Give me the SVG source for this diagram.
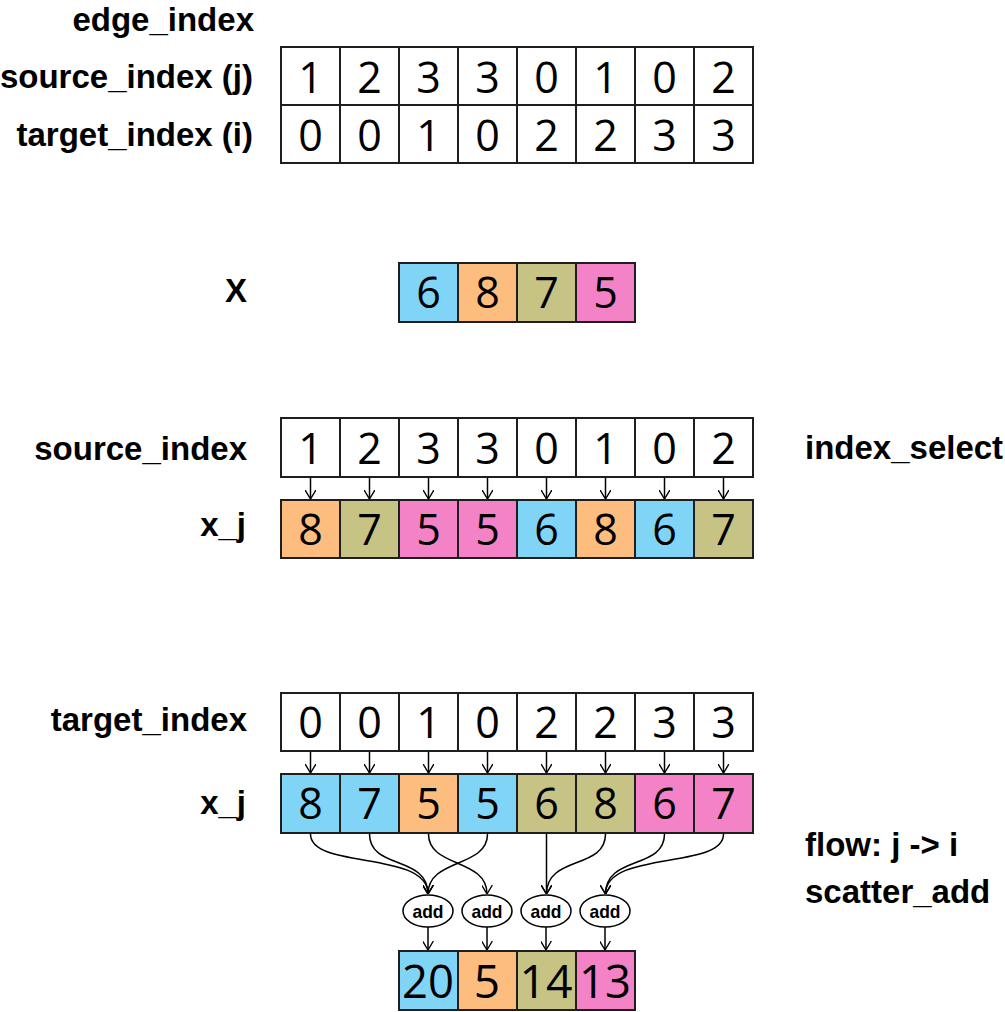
<svg xmlns="http://www.w3.org/2000/svg" width="1005" height="1012" viewBox="0 0 1005 1012">
<style>
.lbl{font-family:"Liberation Sans",Arial,sans-serif;font-weight:bold;font-size:33px;fill:#000}
.r{text-anchor:end}
.num{font-family:"Open Sans","Noto Sans",sans-serif;font-size:43px;text-anchor:middle;fill:#000}
.big{font-size:46px}
.cell{stroke:#1e1e1e;stroke-width:2}
.w{fill:#fff}.b{fill:#80d5f7}.o{fill:#fdbd7e}.g{fill:#c6c385}.p{fill:#f482c6}
.con{fill:none;stroke:#000;stroke-width:1.5;marker-end:url(#ah)}
.add{fill:#fff;stroke:#000;stroke-width:1.5}
.addt{font-family:"Liberation Sans",Arial,sans-serif;font-weight:bold;font-size:19px;text-anchor:middle}
</style>
<defs>
<marker id="ah" viewBox="0 0 10 12" refX="10" refY="6" markerWidth="9" markerHeight="11" markerUnits="userSpaceOnUse" orient="auto">
<path d="M0,0 L10,6 L0,12" fill="none" stroke="#000" stroke-width="1.5"/>
</marker>
</defs>

<g id="labels">
<text class="lbl r" x="254" y="31">edge_index</text>
<text class="lbl r" x="253" y="88">source_index (j)</text>
<text class="lbl r" x="253" y="146">target_index (i)</text>
<text class="lbl r" x="247" y="302">X</text>
<text class="lbl r" x="247" y="460">source_index</text>
<text class="lbl r" x="246" y="536">x_j</text>
<text class="lbl" x="805" y="459">index_select</text>
<text class="lbl r" x="247" y="731">target_index</text>
<text class="lbl r" x="246" y="814">x_j</text>
<text class="lbl" x="805" y="856">flow: j -&gt; i</text>
<text class="lbl" x="805" y="903">scatter_add</text>
</g>

<g id="edge_index_source">
<rect class="cell w" x="281" y="47" width="59" height="58"/><rect class="cell w" x="340" y="47" width="59" height="58"/><rect class="cell w" x="399" y="47" width="59" height="58"/><rect class="cell w" x="458" y="47" width="59" height="58"/><rect class="cell w" x="517" y="47" width="59" height="58"/><rect class="cell w" x="576" y="47" width="59" height="58"/><rect class="cell w" x="635" y="47" width="59" height="58"/><rect class="cell w" x="694" y="47" width="59" height="58"/>
<text class="num" x="310.5" y="93">1</text><text class="num" x="369.5" y="93">2</text><text class="num" x="428.5" y="93">3</text><text class="num" x="487.5" y="93">3</text><text class="num" x="546.5" y="93">0</text><text class="num" x="605.5" y="93">1</text><text class="num" x="664.5" y="93">0</text><text class="num" x="723.5" y="93">2</text>
</g>
<g id="edge_index_target">
<rect class="cell w" x="281" y="105" width="59" height="58"/><rect class="cell w" x="340" y="105" width="59" height="58"/><rect class="cell w" x="399" y="105" width="59" height="58"/><rect class="cell w" x="458" y="105" width="59" height="58"/><rect class="cell w" x="517" y="105" width="59" height="58"/><rect class="cell w" x="576" y="105" width="59" height="58"/><rect class="cell w" x="635" y="105" width="59" height="58"/><rect class="cell w" x="694" y="105" width="59" height="58"/>
<text class="num" x="310.5" y="151">0</text><text class="num" x="369.5" y="151">0</text><text class="num" x="428.5" y="151">1</text><text class="num" x="487.5" y="151">0</text><text class="num" x="546.5" y="151">2</text><text class="num" x="605.5" y="151">2</text><text class="num" x="664.5" y="151">3</text><text class="num" x="723.5" y="151">3</text>
</g>

<g id="X">
<rect class="cell b" x="399" y="263" width="59" height="59"/><rect class="cell o" x="458" y="263" width="59" height="59"/><rect class="cell g" x="517" y="263" width="59" height="59"/><rect class="cell p" x="576" y="263" width="59" height="59"/>
<text class="num" x="428.5" y="308">6</text><text class="num" x="487.5" y="308">8</text><text class="num" x="546.5" y="308">7</text><text class="num" x="605.5" y="308">5</text>
</g>

<g id="source_index">
<rect class="cell w" x="281" y="418" width="59" height="59"/><rect class="cell w" x="340" y="418" width="59" height="59"/><rect class="cell w" x="399" y="418" width="59" height="59"/><rect class="cell w" x="458" y="418" width="59" height="59"/><rect class="cell w" x="517" y="418" width="59" height="59"/><rect class="cell w" x="576" y="418" width="59" height="59"/><rect class="cell w" x="635" y="418" width="59" height="59"/><rect class="cell w" x="694" y="418" width="59" height="59"/>
<text class="num" x="310.5" y="464">1</text><text class="num" x="369.5" y="464">2</text><text class="num" x="428.5" y="464">3</text><text class="num" x="487.5" y="464">3</text><text class="num" x="546.5" y="464">0</text><text class="num" x="605.5" y="464">1</text><text class="num" x="664.5" y="464">0</text><text class="num" x="723.5" y="464">2</text>
</g>

<g id="x_j_select">
<rect class="cell o" x="281" y="500" width="59" height="58"/><rect class="cell g" x="340" y="500" width="59" height="58"/><rect class="cell p" x="399" y="500" width="59" height="58"/><rect class="cell p" x="458" y="500" width="59" height="58"/><rect class="cell b" x="517" y="500" width="59" height="58"/><rect class="cell o" x="576" y="500" width="59" height="58"/><rect class="cell b" x="635" y="500" width="59" height="58"/><rect class="cell g" x="694" y="500" width="59" height="58"/>
<text class="num" x="310.5" y="545">8</text><text class="num" x="369.5" y="545">7</text><text class="num" x="428.5" y="545">5</text><text class="num" x="487.5" y="545">5</text><text class="num" x="546.5" y="545">6</text><text class="num" x="605.5" y="545">8</text><text class="num" x="664.5" y="545">6</text><text class="num" x="723.5" y="545">7</text>
</g>

<g id="target_index">
<rect class="cell w" x="281" y="693" width="59" height="58"/><rect class="cell w" x="340" y="693" width="59" height="58"/><rect class="cell w" x="399" y="693" width="59" height="58"/><rect class="cell w" x="458" y="693" width="59" height="58"/><rect class="cell w" x="517" y="693" width="59" height="58"/><rect class="cell w" x="576" y="693" width="59" height="58"/><rect class="cell w" x="635" y="693" width="59" height="58"/><rect class="cell w" x="694" y="693" width="59" height="58"/>
<text class="num" x="310.5" y="738">0</text><text class="num" x="369.5" y="738">0</text><text class="num" x="428.5" y="738">1</text><text class="num" x="487.5" y="738">0</text><text class="num" x="546.5" y="738">2</text><text class="num" x="605.5" y="738">2</text><text class="num" x="664.5" y="738">3</text><text class="num" x="723.5" y="738">3</text>
</g>

<g id="x_j_scatter">
<rect class="cell b" x="281" y="774" width="59" height="59"/><rect class="cell b" x="340" y="774" width="59" height="59"/><rect class="cell o" x="399" y="774" width="59" height="59"/><rect class="cell b" x="458" y="774" width="59" height="59"/><rect class="cell g" x="517" y="774" width="59" height="59"/><rect class="cell g" x="576" y="774" width="59" height="59"/><rect class="cell p" x="635" y="774" width="59" height="59"/><rect class="cell p" x="694" y="774" width="59" height="59"/>
<text class="num" x="310.5" y="819">8</text><text class="num" x="369.5" y="819">7</text><text class="num" x="428.5" y="819">5</text><text class="num" x="487.5" y="819">5</text><text class="num" x="546.5" y="819">6</text><text class="num" x="605.5" y="819">8</text><text class="num" x="664.5" y="819">6</text><text class="num" x="723.5" y="819">7</text>
</g>

<g id="add1"><ellipse class="add" cx="428" cy="911" rx="25" ry="16"/><text class="addt" x="428" y="918" textLength="31" lengthAdjust="spacingAndGlyphs">add</text></g>
<g id="add2"><ellipse class="add" cx="487" cy="911" rx="25" ry="16"/><text class="addt" x="487" y="918" textLength="31" lengthAdjust="spacingAndGlyphs">add</text></g>
<g id="add3"><ellipse class="add" cx="546" cy="911" rx="25" ry="16"/><text class="addt" x="546" y="918" textLength="31" lengthAdjust="spacingAndGlyphs">add</text></g>
<g id="add4"><ellipse class="add" cx="605" cy="911" rx="25" ry="16"/><text class="addt" x="605" y="918" textLength="31" lengthAdjust="spacingAndGlyphs">add</text></g>

<g id="result">
<rect class="cell b" x="399" y="951" width="59" height="59"/><rect class="cell o" x="458" y="951" width="59" height="59"/><rect class="cell g" x="517" y="951" width="59" height="59"/><rect class="cell p" x="576" y="951" width="59" height="59"/>
<text class="num big" x="428" y="998" textLength="52" lengthAdjust="spacingAndGlyphs">20</text><text class="num big" x="487" y="998">5</text><text class="num big" x="546" y="998" textLength="53" lengthAdjust="spacingAndGlyphs">14</text><text class="num big" x="605" y="998" textLength="52" lengthAdjust="spacingAndGlyphs">13</text>
</g>

<g id="connectors">
<line class="con" x1="310.5" y1="478" x2="310.5" y2="499"/><line class="con" x1="369.5" y1="478" x2="369.5" y2="499"/><line class="con" x1="428.5" y1="478" x2="428.5" y2="499"/><line class="con" x1="487.5" y1="478" x2="487.5" y2="499"/><line class="con" x1="546.5" y1="478" x2="546.5" y2="499"/><line class="con" x1="605.5" y1="478" x2="605.5" y2="499"/><line class="con" x1="664.5" y1="478" x2="664.5" y2="499"/><line class="con" x1="723.5" y1="478" x2="723.5" y2="499"/>
<line class="con" x1="310.5" y1="752" x2="310.5" y2="773"/><line class="con" x1="369.5" y1="752" x2="369.5" y2="773"/><line class="con" x1="428.5" y1="752" x2="428.5" y2="773"/><line class="con" x1="487.5" y1="752" x2="487.5" y2="773"/><line class="con" x1="546.5" y1="752" x2="546.5" y2="773"/><line class="con" x1="605.5" y1="752" x2="605.5" y2="773"/><line class="con" x1="664.5" y1="752" x2="664.5" y2="773"/><line class="con" x1="723.5" y1="752" x2="723.5" y2="773"/>
<path class="con" d="M310.5,834 C310.5,870 428,850 428,894"/>
<path class="con" d="M369.5,834 C369.5,870 428,855 428,894"/>
<path class="con" d="M428.5,834 C428.5,868 487,858 487,894"/>
<path class="con" d="M487.5,834 C487.5,868 428,858 428,894"/>
<path class="con" d="M546.5,834 L546.5,894"/>
<path class="con" d="M605.5,834 C605.5,870 546.5,855 546.5,894"/>
<path class="con" d="M664.5,834 C664.5,870 605.5,855 605.5,894"/>
<path class="con" d="M723.5,834 C723.5,870 605.5,850 605.5,894"/>
<line class="con" x1="428" y1="927" x2="428" y2="950"/><line class="con" x1="487" y1="927" x2="487" y2="950"/><line class="con" x1="546" y1="927" x2="546" y2="950"/><line class="con" x1="605" y1="927" x2="605" y2="950"/>
</g>
</svg>
